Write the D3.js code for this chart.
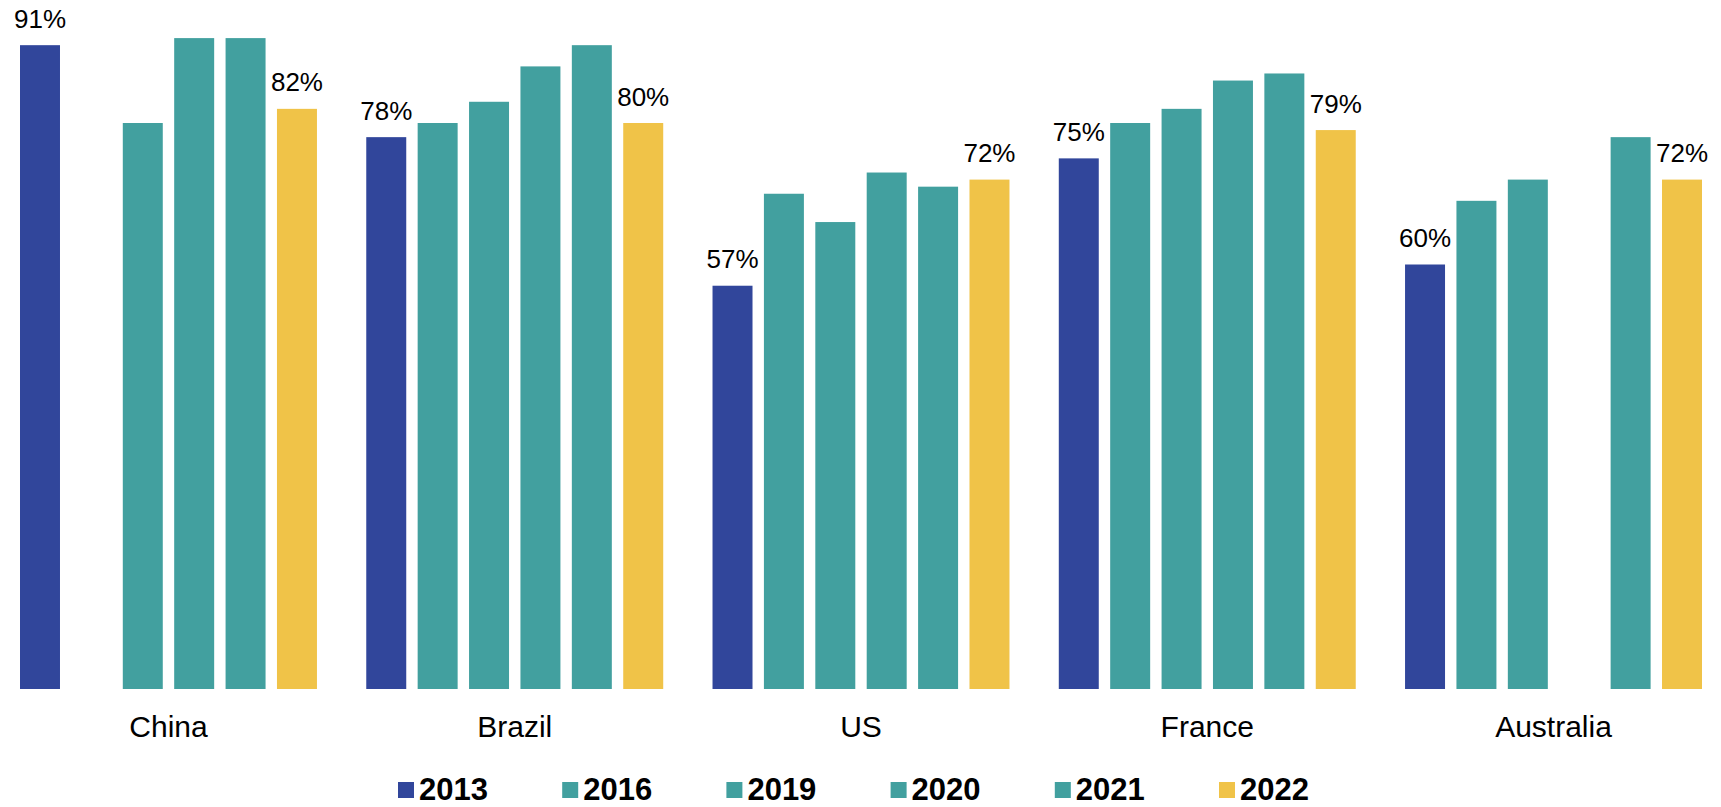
<!DOCTYPE html>
<html>
<head>
<meta charset="utf-8">
<script src="https://cdn.jsdelivr.net/npm/d3@7.9.0/dist/d3.min.js"></script>
<style>
  html, body { margin: 0; padding: 0; background: #fff; }
  svg { display: block; font-family: "Liberation Sans", Arial, sans-serif; }
</style>
</head>
<body>
<svg id="chart" width="1721" height="807"></svg>
<script>
const countries = ['China', 'Brazil', 'US', 'France', 'Australia'];
const years = ['2013', '2016', '2019', '2020', '2021', '2022'];

// one array per survey year, in country order (null = no bar)
const v2013 = [91, 78, 57, 75, 60];
const v2016 = [null, 80, 70, 80, 69];
const v2019 = [80, 83, 66, 82, 72];
const v2020 = [92, 88, 73, 86, null];
const v2021 = [92, 91, 71, 87, 78];
const v2022 = [82, 80, 72, 79, 72];

const series = [v2013, v2016, v2019, v2020, v2021, v2022];
const labelledYears = ['2013', '2022'];
const colors = ['#31469b', '#42a09f', '#42a09f', '#42a09f', '#42a09f', '#f0c348'];

const svg = d3.select('#chart');

let x0 = d3.scaleBand()
  .domain(countries)
  .range([20, 1702])
  .paddingInner(0.1424)
  .paddingOuter(0);

let x1 = d3.scaleBand()
  .domain(years)
  .range([0, x0.bandwidth()])
  .paddingInner(0.222)
  .paddingOuter(0);

let y = d3.scaleLinear().domain([0, 100]).range([689, -18.5]);

let color = d3.scaleOrdinal().domain(years).range(colors);

let rows = [];
countries.forEach((c, ci) => {
  years.forEach((yr, yi) => {
    let v = series[yi][ci];
    if (v != null) rows.push({ country: c, year: yr, value: v });
  });
});

let bars = svg.append('g');

bars.selectAll('rect')
  .data(rows)
  .join('rect')
  .attr('x', d => x0(d.country) + x1(d.year))
  .attr('y', d => y(d.value))
  .attr('width', x1.bandwidth())
  .attr('height', d => y(0) - y(d.value))
  .attr('fill', d => color(d.year));

svg.append('g')
  .selectAll('text')
  .data(rows.filter(d => labelledYears.includes(d.year)))
  .join('text')
  .attr('x', d => x0(d.country) + x1(d.year) + x1.bandwidth() / 2)
  .attr('y', d => y(d.value) - 17.5)
  .attr('text-anchor', 'middle')
  .attr('font-size', 26)
  .attr('fill', '#000')
  .text(d => `${d.value}%`);

// country names under each group
svg.append('g')
  .selectAll('text')
  .data(countries)
  .join('text')
  .attr('x', d => x0(d) + x0.bandwidth() / 2)
  .attr('y', 737)
  .attr('text-anchor', 'middle')
  .attr('font-size', 30)
  .attr('fill', '#000')
  .text(d => d);

// legend
let legendX = d3.scalePoint().domain(years).range([398, 1219]);

let legend = svg.append('g')
  .selectAll('g')
  .data(years)
  .join('g')
  .attr('transform', d => `translate(${legendX(d)},0)`);

legend.append('rect')
  .attr('x', 0)
  .attr('y', 782)
  .attr('width', 16)
  .attr('height', 16)
  .attr('fill', d => color(d));

legend.append('text')
  .attr('x', 21)
  .attr('y', 800)
  .attr('font-size', 31)
  .attr('font-weight', 'bold')
  .attr('fill', '#000')
  .text(d => d);
</script>
</body>
</html>
